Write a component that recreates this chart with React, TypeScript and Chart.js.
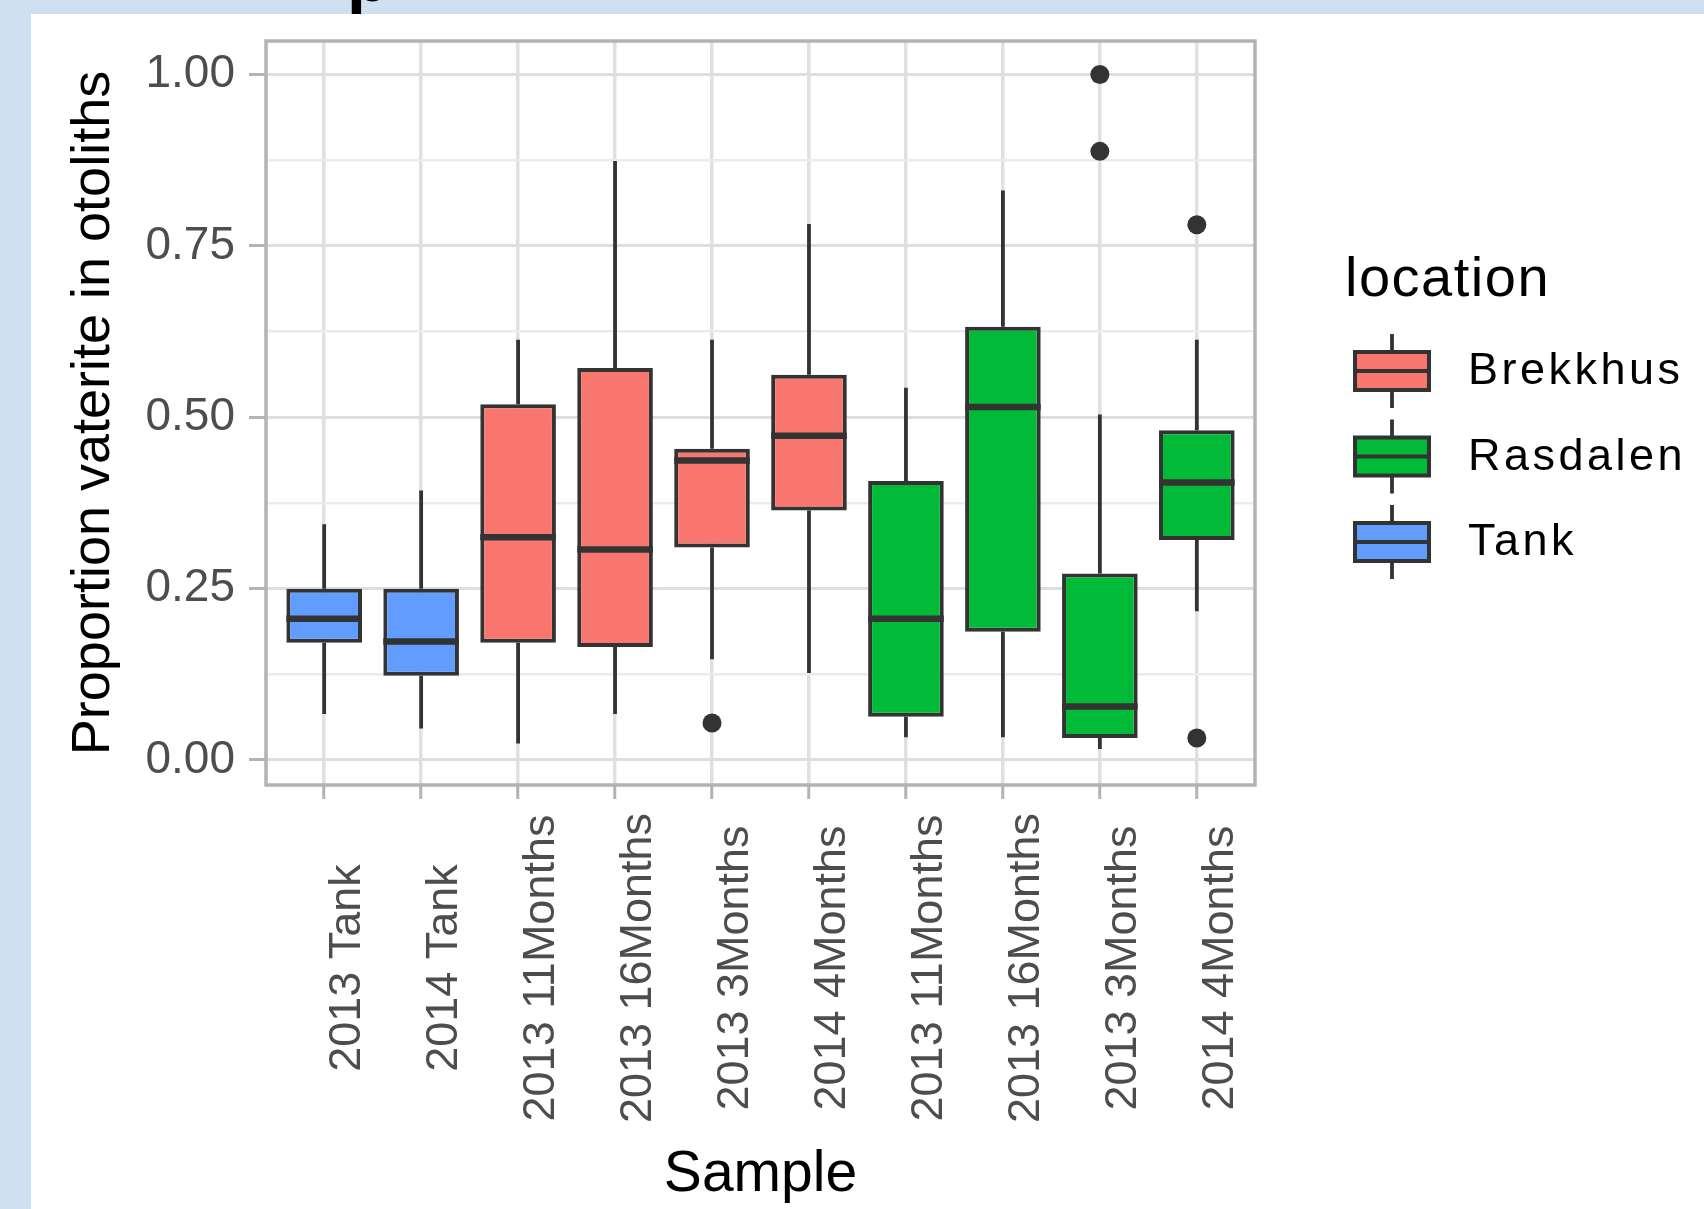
import React, { useEffect, useRef } from 'react';
import { Chart, registerables } from 'chart.js';

Chart.register(...registerables);

const FONT = '"Liberation Sans", Arial, Helvetica, sans-serif';

// ---- data ----
const categories = [
  '2013 Tank', '2014 Tank', '2013 11Months', '2013 16Months', '2013 3Months',
  '2014 4Months', '2013 11Months', '2013 16Months', '2013 3Months', '2014 4Months',
];
const locations = [
  'Tank', 'Tank', 'Brekkhus', 'Brekkhus', 'Brekkhus',
  'Brekkhus', 'Rasdalen', 'Rasdalen', 'Rasdalen', 'Rasdalen',
];
const whiskerLow = [0.067, 0.046, 0.024, 0.067, 0.147, 0.127, 0.033, 0.033, 0.016, 0.217];
const q1 = [0.171, 0.123, 0.171, 0.165, 0.310, 0.364, 0.063, 0.187, 0.032, 0.321];
const median = [0.206, 0.173, 0.325, 0.307, 0.437, 0.473, 0.206, 0.515, 0.078, 0.405];
const q3 = [0.250, 0.250, 0.519, 0.572, 0.454, 0.562, 0.407, 0.632, 0.272, 0.481];
const whiskerHigh = [0.344, 0.393, 0.613, 0.874, 0.613, 0.782, 0.543, 0.831, 0.504, 0.613];
const outliers: number[][] = [[], [], [], [], [0.054], [], [], [], [1.0, 0.888], [0.781, 0.032]];

const legendLabels = ['Brekkhus', 'Rasdalen', 'Tank'];
const legendColors = ['#F8766D', '#00BA38', '#619CFF'];

const yMajorTicks = [0, 0.25, 0.5, 0.75, 1];
const yMinorTicks = [0.125, 0.375, 0.625, 0.875];
const yLimits = [-0.0365, 1.049];
const xLimits = [-0.6, 9.6];

const xTitle = 'Sample';
const yTitle = 'Proportion vaterite in otoliths';
const legendTitle = 'location';

const colorOf = (loc: string) => legendColors[legendLabels.indexOf(loc)];

const DARK = '#333333';

const extrasPlugin = {
  id: 'boxExtras',
  beforeDatasetsDraw(chart: any) {
    const { ctx, scales } = chart;
    const x = scales.x;
    const y = scales.y;
    ctx.save();
    ctx.strokeStyle = DARK;
    ctx.lineWidth = 3.8;
    categories.forEach((_, i) => {
      const px = x.getPixelForValue(i);
      ctx.beginPath();
      ctx.moveTo(px, y.getPixelForValue(q3[i]));
      ctx.lineTo(px, y.getPixelForValue(whiskerHigh[i]));
      ctx.moveTo(px, y.getPixelForValue(q1[i]));
      ctx.lineTo(px, y.getPixelForValue(whiskerLow[i]));
      ctx.stroke();
    });
    ctx.restore();
  },
  afterDatasetsDraw(chart: any) {
    const { ctx, scales, chartArea } = chart;
    const y = scales.y;
    const meta = chart.getDatasetMeta(0);
    ctx.save();
    ctx.strokeStyle = DARK;
    ctx.lineWidth = 6.5;
    meta.data.forEach((el: any, i: number) => {
      const { x: cx, width } = el.getProps(['x', 'width'], true);
      const py = y.getPixelForValue(median[i]);
      ctx.beginPath();
      ctx.moveTo(cx - width / 2, py);
      ctx.lineTo(cx + width / 2, py);
      ctx.stroke();
    });
    // panel border
    ctx.strokeStyle = '#b3b3b3';
    ctx.lineWidth = 3.5;
    ctx.strokeRect(chartArea.left, chartArea.top, chartArea.right - chartArea.left, chartArea.bottom - chartArea.top);
    ctx.restore();
  },
  afterDraw(chart: any) {
    const { ctx, scales, chartArea } = chart;
    const x = scales.x;
    // x tick labels (rotated, centred)
    ctx.save();
    ctx.fillStyle = '#4d4d4d';
    ctx.font = `45px ${FONT}`;
    ctx.textAlign = 'center';
    ctx.textBaseline = 'top';
    categories.forEach((label, i) => {
      const px = x.getPixelForValue(i);
      ctx.save();
      ctx.translate(px + 1, chartArea.bottom + 183);
      ctx.rotate(-Math.PI / 2);
      ctx.fillText(label, 0, 0);
      ctx.restore();
    });
    ctx.restore();

    // legend
    const lx = chartArea.right + 90;
    ctx.save();
    ctx.fillStyle = '#000000';
    ctx.font = `56px ${FONT}`;
    (ctx as any).letterSpacing = '1.5px';
    ctx.textAlign = 'left';
    ctx.textBaseline = 'alphabetic';
    ctx.fillText(legendTitle, lx, 282);
    const keyCx = chartArea.right + 137;
    legendLabels.forEach((label, i) => {
      const cy = 357 + i * 85.5;
      ctx.strokeStyle = DARK;
      ctx.lineWidth = 3.8;
      ctx.beginPath();
      ctx.moveTo(keyCx, cy - 37);
      ctx.lineTo(keyCx, cy - 19);
      ctx.moveTo(keyCx, cy + 19);
      ctx.lineTo(keyCx, cy + 37);
      ctx.stroke();
      ctx.fillStyle = legendColors[i];
      ctx.fillRect(keyCx - 37, cy - 19, 74, 38);
      ctx.lineWidth = 4;
      ctx.strokeRect(keyCx - 37, cy - 19, 74, 38);
      ctx.beginPath();
      ctx.moveTo(keyCx - 37, cy);
      ctx.lineTo(keyCx + 37, cy);
      ctx.stroke();
      ctx.fillStyle = '#000000';
      ctx.font = `45px ${FONT}`;
      (ctx as any).letterSpacing = '3.5px';
      ctx.textBaseline = 'middle';
      ctx.fillText(label, chartArea.right + 213, cy + 1);
    });
    ctx.restore();
  },
};

export default function App() {
  const ref = useRef<HTMLCanvasElement>(null);
  useEffect(() => {
    document.body.style.margin = '0';
    const canvas = ref.current;
    if (!canvas) return;
    Chart.defaults.font.family = FONT;
    const boxData = categories.map((_, i) => ({ x: i, y: [q1[i], q3[i]] }));
    const outlierData = outliers.flatMap((vals, i) => vals.map((v) => ({ x: i, y: v })));
    const chart = new Chart(canvas, {
      type: 'bar',
      data: {
        datasets: [
          {
            type: 'bar',
            data: boxData as any,
            backgroundColor: locations.map(colorOf),
            borderColor: DARK,
            borderWidth: 4,
            borderSkipped: false,
            barPercentage: 0.78,
            categoryPercentage: 1,
          } as any,
          {
            type: 'scatter',
            data: outlierData as any,
            backgroundColor: DARK,
            borderColor: DARK,
            borderWidth: 0,
            pointRadius: 9.5,
          } as any,
        ],
      },
      options: {
        responsive: false,
        devicePixelRatio: 1,
        animation: false,
        events: [],
        layout: { padding: { left: 0, top: 27, right: 449, bottom: 0 } },
        plugins: { legend: { display: false }, tooltip: { enabled: false } },
        scales: {
          x: {
            type: 'linear',
            min: xLimits[0],
            max: xLimits[1],
            bounds: 'data',
            offset: false,
            afterBuildTicks: (s: any) => {
              s.ticks = categories.map((_, i) => ({ value: i }));
            },
            ticks: { display: false },
            grid: {
              offset: false,
              color: '#e0e0e0',
              lineWidth: 3.5,
              drawTicks: true,
              tickLength: 14,
              tickColor: '#b3b3b3',
              tickWidth: 3,
            },
            border: { display: false },
            title: {
              display: true,
              text: xTitle,
              color: '#000000',
              font: { size: 57, family: FONT },
              padding: { top: 0, bottom: 0 },
            },
            afterFit: (s: any) => {
              s.height = 424;
              s.paddingLeft = 0;
              s.paddingRight = 0;
            },
          } as any,
          y: {
            type: 'linear',
            min: yLimits[0],
            max: yLimits[1],
            bounds: 'data',
            afterBuildTicks: (s: any) => {
              s.ticks = [...yMajorTicks, ...yMinorTicks].sort((a, b) => a - b).map((v) => ({ value: v }));
            },
            ticks: {
              callback: (v: any) => (yMajorTicks.includes(Number(v)) ? Number(v).toFixed(2) : ''),
              color: '#4d4d4d',
              font: { size: 46, family: FONT },
              padding: 14,
              autoSkip: false,
            },
            grid: {
              color: (c: any) => (yMajorTicks.includes(c.tick?.value) ? '#dedede' : '#ebebeb'),
              lineWidth: (c: any) => (yMajorTicks.includes(c.tick?.value) ? 3 : 2.5),
              drawTicks: true,
              tickLength: 17,
              tickColor: (c: any) => (yMajorTicks.includes(c.tick?.value) ? '#b3b3b3' : 'rgba(0,0,0,0)'),
              tickWidth: 3,
            },
            border: { display: false },
            title: {
              display: true,
              text: yTitle,
              color: '#000000',
              font: { size: 54, family: FONT },
              padding: { top: 31, bottom: 0 },
            },
            afterFit: (s: any) => {
              s.width = 235;
              s.paddingTop = 0;
              s.paddingBottom = 0;
            },
          } as any,
        },
      },
      plugins: [extrasPlugin],
    } as any);
    return () => chart.destroy();
  }, []);

  return (
    <div style={{ position: 'relative', width: 1704, height: 1209, background: '#cfe0f0', overflow: 'hidden' }}>
      <div
        style={{
          position: 'absolute',
          left: 347,
          top: -57,
          fontFamily: FONT,
          fontWeight: 'bold',
          fontSize: 68,
          lineHeight: '68px',
          color: '#000',
          whiteSpace: 'nowrap',
        }}
      >
        p
      </div>
      <div style={{ position: 'absolute', left: 31, top: 14, width: 1673, height: 1195, background: '#ffffff' }}>
        <canvas ref={ref} width={1673} height={1195} style={{ display: 'block', width: 1673, height: 1195 }} />
      </div>
    </div>
  );
}
